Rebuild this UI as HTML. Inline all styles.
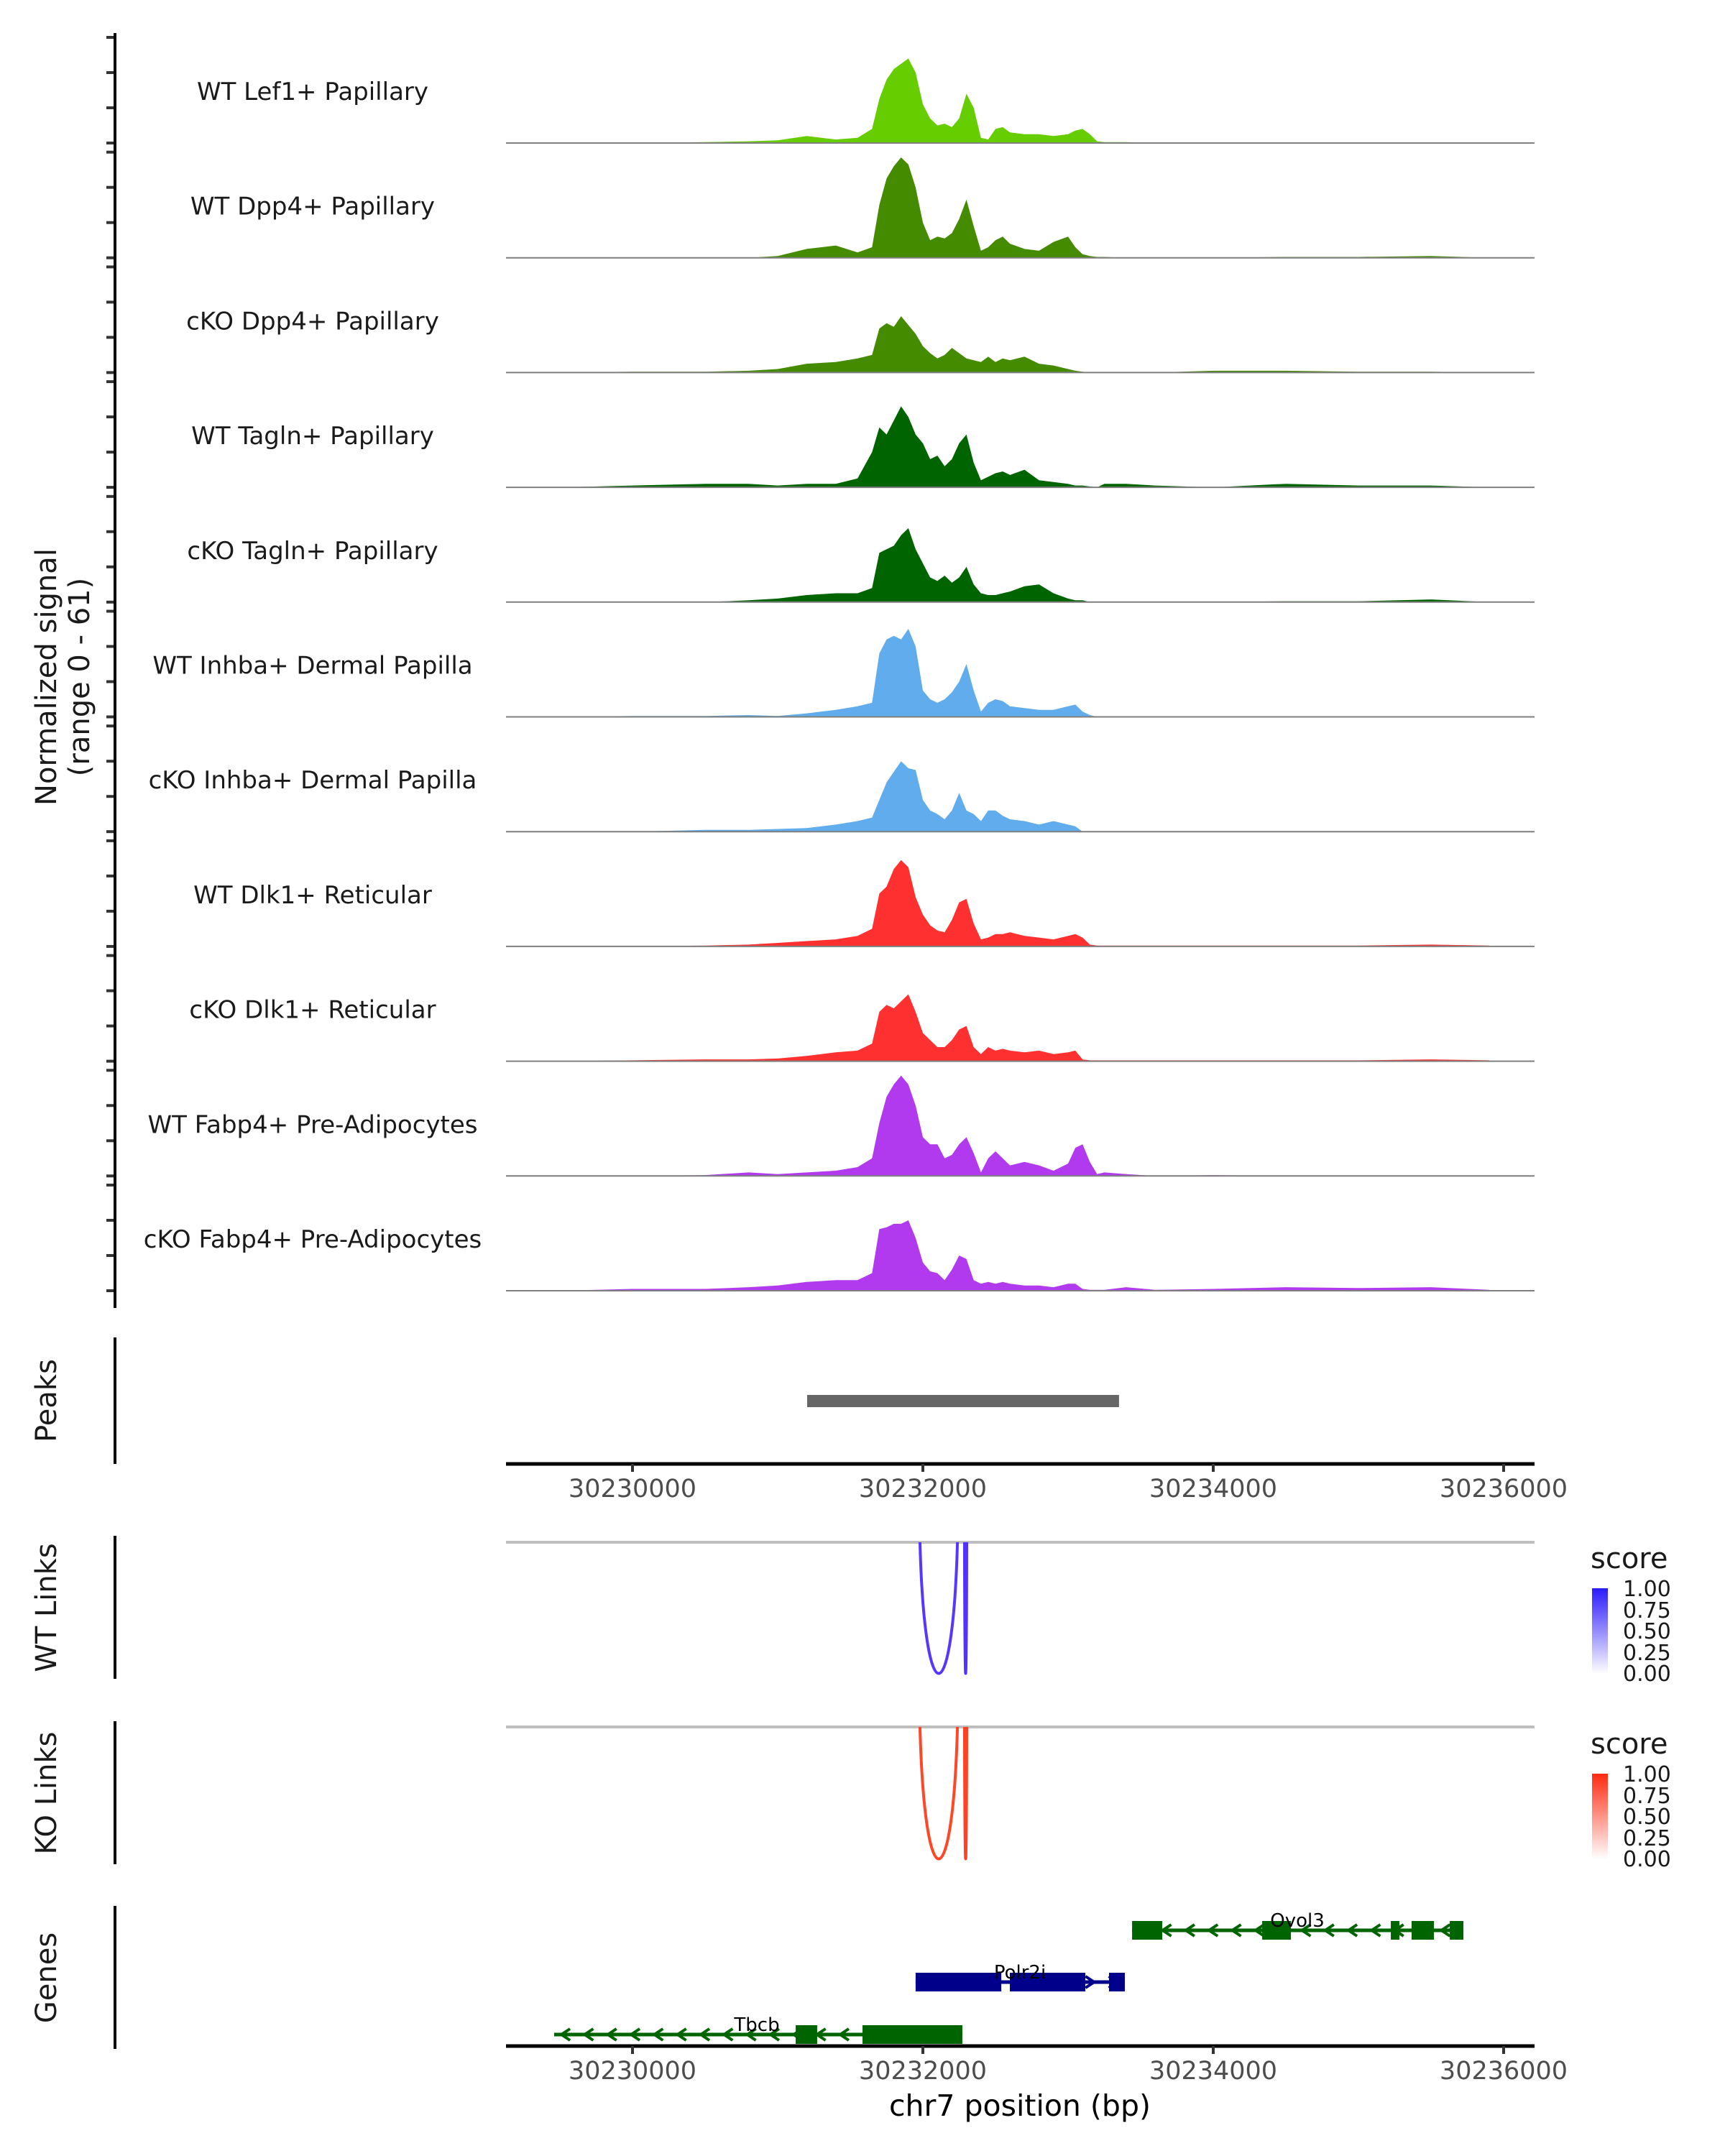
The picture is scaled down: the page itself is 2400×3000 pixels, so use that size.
<!DOCTYPE html>
<html><head><meta charset="utf-8">
<style>
html,body{margin:0;padding:0;background:#fff;}
svg{display:block;font-family:"DejaVu Sans","Liberation Sans",sans-serif;}
</style></head>
<body>
<svg id="chart" width="2400" height="3000" viewBox="0 0 2400 3000" xmlns="http://www.w3.org/2000/svg">
<defs>
<linearGradient id="gBlue" x1="0" y1="1" x2="0" y2="0"><stop offset="0" stop-color="#ffffff"/><stop offset="1" stop-color="#2a1aff"/></linearGradient>
<linearGradient id="gRed" x1="0" y1="1" x2="0" y2="0"><stop offset="0" stop-color="#ffffff"/><stop offset="1" stop-color="#ff2a10"/></linearGradient>
</defs>
<g id="tracks"></g>
<text transform="translate(78,942) rotate(-90)" text-anchor="middle" font-size="40" fill="#1a1a1a">Normalized signal</text>
<text transform="translate(124,942) rotate(-90)" text-anchor="middle" font-size="40" fill="#1a1a1a">(range 0 - 61)</text>
<line x1="160" y1="46" x2="160" y2="1820" stroke="#000" stroke-width="4"/>

<g>
<text transform="translate(78,1949) rotate(-90)" text-anchor="middle" font-size="40" fill="#1a1a1a">Peaks</text>
<line x1="160" y1="1861" x2="160" y2="2037" stroke="#000" stroke-width="4"/>
<g id="peaks"></g>
<g id="axis1"></g>
</g>

<g>
<text transform="translate(78,2237) rotate(-90)" text-anchor="middle" font-size="40" fill="#1a1a1a">WT Links</text>
<line x1="160" y1="2137" x2="160" y2="2336" stroke="#000" stroke-width="4"/>
<line x1="704" y1="2146" x2="2135" y2="2146" stroke="#bebebe" stroke-width="4"/>
<g id="wtlinks"></g>
<text x="2213" y="2182" font-size="40" fill="#1a1a1a">score</text>
<rect x="2215" y="2210" width="22" height="119" fill="url(#gBlue)"/>
<g font-size="30" fill="#1a1a1a">
<text x="2258" y="2221">1.00</text><text x="2258" y="2251">0.75</text><text x="2258" y="2280">0.50</text><text x="2258" y="2310">0.25</text><text x="2258" y="2339">0.00</text></g>
</g>

<g>
<text transform="translate(78,2495) rotate(-90)" text-anchor="middle" font-size="40" fill="#1a1a1a">KO Links</text>
<line x1="160" y1="2395" x2="160" y2="2594" stroke="#000" stroke-width="4"/>
<line x1="704" y1="2403" x2="2135" y2="2403" stroke="#bebebe" stroke-width="4"/>
<g id="kolinks"></g>
<text x="2213" y="2440" font-size="40" fill="#1a1a1a">score</text>
<rect x="2215" y="2468" width="22" height="119" fill="url(#gRed)"/>
<g font-size="30" fill="#1a1a1a">
<text x="2258" y="2479">1.00</text><text x="2258" y="2509">0.75</text><text x="2258" y="2538">0.50</text><text x="2258" y="2568">0.25</text><text x="2258" y="2597">0.00</text></g>
</g>

<g>
<text transform="translate(78,2752) rotate(-90)" text-anchor="middle" font-size="40" fill="#1a1a1a">Genes</text>
<line x1="160" y1="2652" x2="160" y2="2851" stroke="#000" stroke-width="4"/>
<g id="genes"></g>
<g id="axis2"></g>
<text x="1419" y="2944" text-anchor="middle" font-size="41" fill="#000">chr7 position (bp)</text>
</g>
</svg>
<script>
const NS="http://www.w3.org/2000/svg";
const knots=[30229500,30230000,30230500,30230800,30231000,30231200,30231400,30231550,30231650,30231700,30231750,30231800,30231850,30231900,30231950,30232000,30232050,30232100,30232150,30232200,30232250,30232300,30232350,30232400,30232450,30232500,30232550,30232600,30232700,30232800,30232900,30233000,30233050,30233100,30233150,30233200,30233250,30233400,30233600,30234000,30234500,30235000,30235500,30235900];
const trackNames=["WT Lef1+ Papillary","WT Dpp4+ Papillary","cKO Dpp4+ Papillary","WT Tagln+ Papillary","cKO Tagln+ Papillary","WT Inhba+ Dermal Papilla","cKO Inhba+ Dermal Papilla","WT Dlk1+ Reticular","cKO Dlk1+ Reticular","WT Fabp4+ Pre-Adipocytes","cKO Fabp4+ Pre-Adipocytes"];
const trackColors=["#66cd00","#458b00","#458b00","#006400","#006400","#60acec","#60acec","#ff3030","#ff3030","#b23aee","#b23aee"];
const sLef1WT=[0,0,0.5,1,1.5,4,2,3,8,25,36,42,45,48,40,22,14,10,11,9,14,28,20,3,2,8,9,6,5,5,4,5,7,8,5,1,0.5,0.5,0,0,0,0,0,0];
const sDpp4WT=[0,0,0,0,1,5,7,3,6,30,45,52,57,53,40,20,10,12,11,14,22,33,18,4,6,10,12,8,5,4,9,12,6,2,1,0.5,0.5,0,0,0,0.5,0.5,1,0];
const sDpp4KO=[0,0.5,0.5,1,2,5,6,8,10,25,28,26,32,27,22,15,11,8,10,14,11,8,7,6,9,6,8,7,9,5,4,2,1,0.5,0,0,0,0,0,1,1,0.5,0.5,0];
const sTaglnWT=[0,1,2,2,1,2,2,5,20,34,30,38,46,40,30,25,16,18,12,16,25,30,14,4,6,8,9,7,10,4,3,2,1,1,0.5,0,2,2,1,0,2,1,1,0];
const sTaglnKO=[0,0,0,1,2,4,5,5,8,28,30,32,38,42,30,22,14,12,15,11,14,20,10,5,4,4,5,6,9,10,5,2,1,1,0,0,0,0,0,0,0.5,0.5,1.5,0];
const sInhbaWT=[0,0.5,0.5,1,0.5,2,4,6,8,36,44,46,44,50,40,15,10,8,10,14,20,30,15,3,8,10,9,6,5,4,4,6,7,3,1,0,0,0,0,0,0,0,0,0];
const sInhbaKO=[0,0,1,1,1.5,2,4,6,8,18,28,34,40,36,35,18,12,10,7,12,22,12,10,6,12,12,9,7,6,4,6,4,3,0,0,0,0,0,0,0,0,0,0,0];
const sDlk1WT=[0,0,0.5,1,2,3,4,6,10,30,34,44,49,45,28,18,12,9,8,15,25,27,13,4,5,7,7,8,6,5,4,6,7,5,1,0.5,0.5,0.5,0.5,0.5,0.5,0.5,1,0.5];
const sDlk1KO=[0,0.5,1,1,1.5,3,5,6,10,28,32,30,34,38,28,16,12,8,8,12,18,20,8,4,8,6,7,6,5,6,4,5,6,1,0.5,0.5,0.5,0.5,0.5,0.5,0.5,0.5,1,0.5];
const sFabp4WT=[0,0,0.5,2,1,2,3,5,10,30,45,52,57,52,40,22,18,18,10,12,18,22,13,2,10,14,10,6,8,6,3,7,16,18,8,1,2,1,0,0.5,0,0,0,0];
const sFabp4KO=[0,1,1,2,3,5,6,6,10,35,36,38,38,40,30,16,11,10,6,12,20,18,6,4,5,4,5,4,3,3,2,4,4,1,0.5,0.5,0.5,2,0.5,1,2,1.5,2,0.5];
const signals=[sLef1WT,sDpp4WT,sDpp4KO,sTaglnWT,sTaglnKO,sInhbaWT,sInhbaKO,sDlk1WT,sDlk1KO,sFabp4WT,sFabp4KO];
const yTicks=[0,20,40,60];
const xTicks=[30230000,30232000,30234000,30236000];
const peakStarts=[30231203];
const peakEnds=[30233351];
const wtLinkStarts=[30231980,30232287];
const wtLinkEnds=[30232238,30232302];
const wtLinkScores=[0.85,0.9];
const koLinkStarts=[30231980,30232287];
const koLinkEnds=[30232238,30232302];
const koLinkScores=[0.85,0.9];
const geneNames=["Ovol3","Polr2i","Tbcb"];
const geneStarts=[30233441,30231950,30229460];
const geneEnds=[30235723,30233391,30232272];
const geneStrands=[-1,1,-1];
const geneExonStarts=[[30233441,30234337,30235223,30235366,30235629],[30231950,30232599,30233282],[30231124,30231584]];
const geneExonEnds=[[30233649,30234535,30235282,30235520,30235723],[30232540,30233119,30233391],[30231272,30232272]];
const geneColors=["#006400","#00008b","#006400"];

const X0=880, PXBP=0.2020, XL=704, XR=2135;
function xs(bp){return X0+(bp-30230000)*PXBP;}
const BASE0=199, TRACKH=159.7, PXU=2.45;
function ys(i,v){return BASE0+TRACKH*i-v*PXU;}
function mk(tag,attrs,parent){const e=document.createElementNS(NS,tag);for(const k in attrs)e.setAttribute(k,attrs[k]);parent.appendChild(e);return e;}

const tg=document.getElementById('tracks');
for(let i=0;i<signals.length;i++){
  const g=mk('g',{},tg);
  
  
  const base=ys(i,0);
  let d='M'+xs(knots[0])+','+base;
  for(let k=0;k<knots.length;k++){d+=' L'+xs(knots[k]).toFixed(1)+','+ys(i,signals[i][k]).toFixed(1);}
  d+=' L'+xs(knots[knots.length-1])+','+base+' Z';
  const p=mk('path',{d:d,fill:trackColors[i]},g);
  
  
  const bl=mk('line',{x1:XL,x2:XR,y1:base,y2:base,stroke:'#7f7f7f','stroke-width':2},g);
  
  
  const t=mk('text',{x:435,y:base-60,'text-anchor':'middle','font-size':34,fill:'#1a1a1a'},g);
  t.textContent=trackNames[i];
  
  
  for(const v of yTicks){
    const tk=mk('line',{x1:148,x2:160,y1:ys(i,v),y2:ys(i,v),stroke:'#333','stroke-width':4},g);
    
    
  }
}
const pg=document.getElementById('peaks');
for(let i=0;i<peakStarts.length;i++){
  const r=mk('rect',{x:xs(peakStarts[i]),y:1941,width:xs(peakEnds[i])-xs(peakStarts[i]),height:17,fill:'#666'},pg);
  
  
}
function axis(id,y){
  const g=document.getElementById(id);
  const l=mk('line',{x1:XL,x2:XR,y1:y,y2:y,stroke:'#000',"stroke-width":5},g);
  
  
  for(const t of xTicks){
    const tk=mk('line',{x1:xs(t),x2:xs(t),y1:y,y2:y+11,stroke:'#333','stroke-width':4},g);
    
    
    const tx=mk('text',{x:xs(t),y:y+46,'text-anchor':'middle','font-size':35,fill:'#4d4d4d'},g);
    tx.textContent=t;
    
    
  }
}
axis('axis1',2037);axis('axis2',2847);
function links(id,starts,ends,scores,top,depth,color){
  const g=document.getElementById(id);
  for(let i=0;i<starts.length;i++){
    const a=xs(starts[i]),b=xs(ends[i]),m=(a+b)/2;
    const d='M'+a+','+top+' C'+(a+(m-a)*0.25)+','+(top+depth*1.33)+' '+(b-(b-m)*0.25)+','+(top+depth*1.33)+' '+b+','+top;
    const p=mk('path',{d:d,fill:'none',stroke:color,'stroke-width':4,'stroke-opacity':0.6+0.4*scores[i]},g);
    
    
  }
}
links('wtlinks',wtLinkStarts,wtLinkEnds,wtLinkScores,2146,183,'#4a2aff');
links('kolinks',koLinkStarts,koLinkEnds,koLinkScores,2403,184,'#ff3a1a');
const gg=document.getElementById('genes');
const geneY=[2686,2758,2831];
const labelX=[1805,1419,1053];
for(let i=0;i<geneNames.length;i++){
  const g=mk('g',{},gg);
  
  
  const y=geneY[i],c=geneColors[i];
  mk('line',{x1:xs(geneStarts[i]),x2:xs(geneEnds[i]),y1:y,y2:y,stroke:c,'stroke-width':5},g);
  for(let bp=geneStarts[i]+80;bp<geneEnds[i]-40;bp+=160){
    const x=xs(bp),s=-geneStrands[i]*6;
    mk('path',{d:'M'+(x+s)+','+(y-8)+' L'+(x-s)+','+y+' L'+(x+s)+','+(y+8),fill:'none',stroke:c,'stroke-width':4},g);
  }
  for(let e=0;e<geneExonStarts[i].length;e++){
    const r=mk('rect',{x:xs(geneExonStarts[i][e]),y:y-13,width:xs(geneExonEnds[i][e])-xs(geneExonStarts[i][e]),height:26,fill:c},g);
    
    
  }
  const t=mk('text',{x:labelX[i],y:y-5,'text-anchor':'middle','font-size':26,fill:'#000'},g);
  t.textContent=geneNames[i];
  
  
}
</script>
</body></html>
